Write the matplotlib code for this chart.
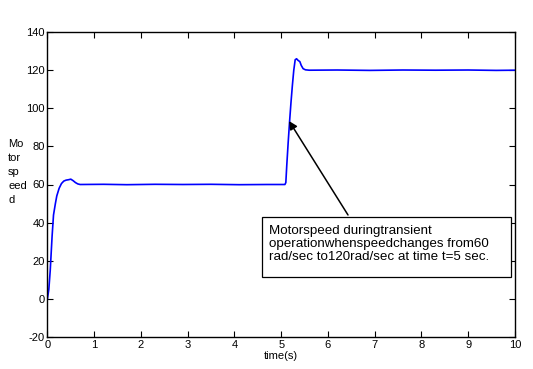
import matplotlib
matplotlib.use('Agg')
import matplotlib.pyplot as plt
from matplotlib.patches import Rectangle

plt.rcParams['font.family'] = ['Liberation Sans', 'DejaVu Sans']
plt.rcParams['axes.unicode_minus'] = False

# motor speed (rad/sec) vs time (s)
time_s = [0.0, 0.03, 0.06, 0.10, 0.13, 0.17, 0.20, 0.25, 0.30, 0.35, 0.40,
          0.45, 0.50, 0.55, 0.60, 0.65, 0.70, 1.2, 1.7, 2.3, 2.9, 3.5, 4.1,
          4.7, 5.08, 5.10, 5.12, 5.15, 5.18, 5.21, 5.24, 5.27, 5.30, 5.33,
          5.36, 5.40, 5.43, 5.47, 5.52, 5.60, 6.2, 6.9, 7.6, 8.3, 9.0, 9.6, 10.0]
speed = [0.0, 5.0, 15.0, 33.0, 44.0, 50.0, 54.0, 58.0, 60.5, 61.8, 62.3,
         62.5, 62.8, 62.0, 61.0, 60.3, 60.0, 60.1, 59.9, 60.1, 60.0, 60.1, 59.9,
         60.0, 60.0, 61.0, 70.0, 82.0, 93.0, 103.0, 112.0, 120.0, 125.5, 126.0,
         125.2, 124.5, 122.5, 120.8, 120.2, 120.0, 120.1, 119.9, 120.1, 120.0, 120.1, 119.9, 120.0]

x_ticks = [0, 1, 2, 3, 4, 5, 6, 7, 8, 9, 10]
y_ticks = [-20, 0, 20, 40, 60, 80, 100, 120, 140]

note = ('Motorspeed duringtransient\n'
        'operationwhenspeedchanges from60\n'
        'rad/sec to120rad/sec at time t=5 sec.')

fig = plt.figure(figsize=(5.33, 3.69), dpi=100)
ax = fig.add_axes([0.089, 0.087, 0.877, 0.826])

ax.plot(time_s, speed, color='#0000ff', linewidth=1.2)

ax.set_xlim(0, 10)
ax.set_ylim(-20, 140)
ax.set_xticks(x_ticks)
ax.set_yticks(y_ticks)
ax.tick_params(direction='in', length=4.5, width=0.8, labelsize=8,
               top=True, right=True, pad=2)
for s in ax.spines.values():
    s.set_linewidth(1.0)

ax.set_xlabel('time(s)', fontsize=8, labelpad=1)
ax.set_ylabel('Mo\ntor\nsp\need\nd', rotation=0, fontsize=8,
              ha='left', va='center', multialignment='left', linespacing=1.5)
ax.yaxis.set_label_coords(-0.084, 0.54)

# annotation box and arrow
ax.add_patch(Rectangle((4.59, 11.5), 5.33, 31.4, facecolor='white',
                       edgecolor='black', linewidth=0.9, zorder=3))
ax.text(4.74, 38.8, note, fontsize=9.6, ha='left', va='top',
        linespacing=1.1, zorder=4)
ax.annotate('', xy=(5.17, 93.3), xytext=(6.43, 44.0),
            arrowprops=dict(arrowstyle='-|>', color='black', lw=1.1,
                            mutation_scale=12, shrinkA=0, shrinkB=0))

plt.savefig('out.png', dpi=100)
